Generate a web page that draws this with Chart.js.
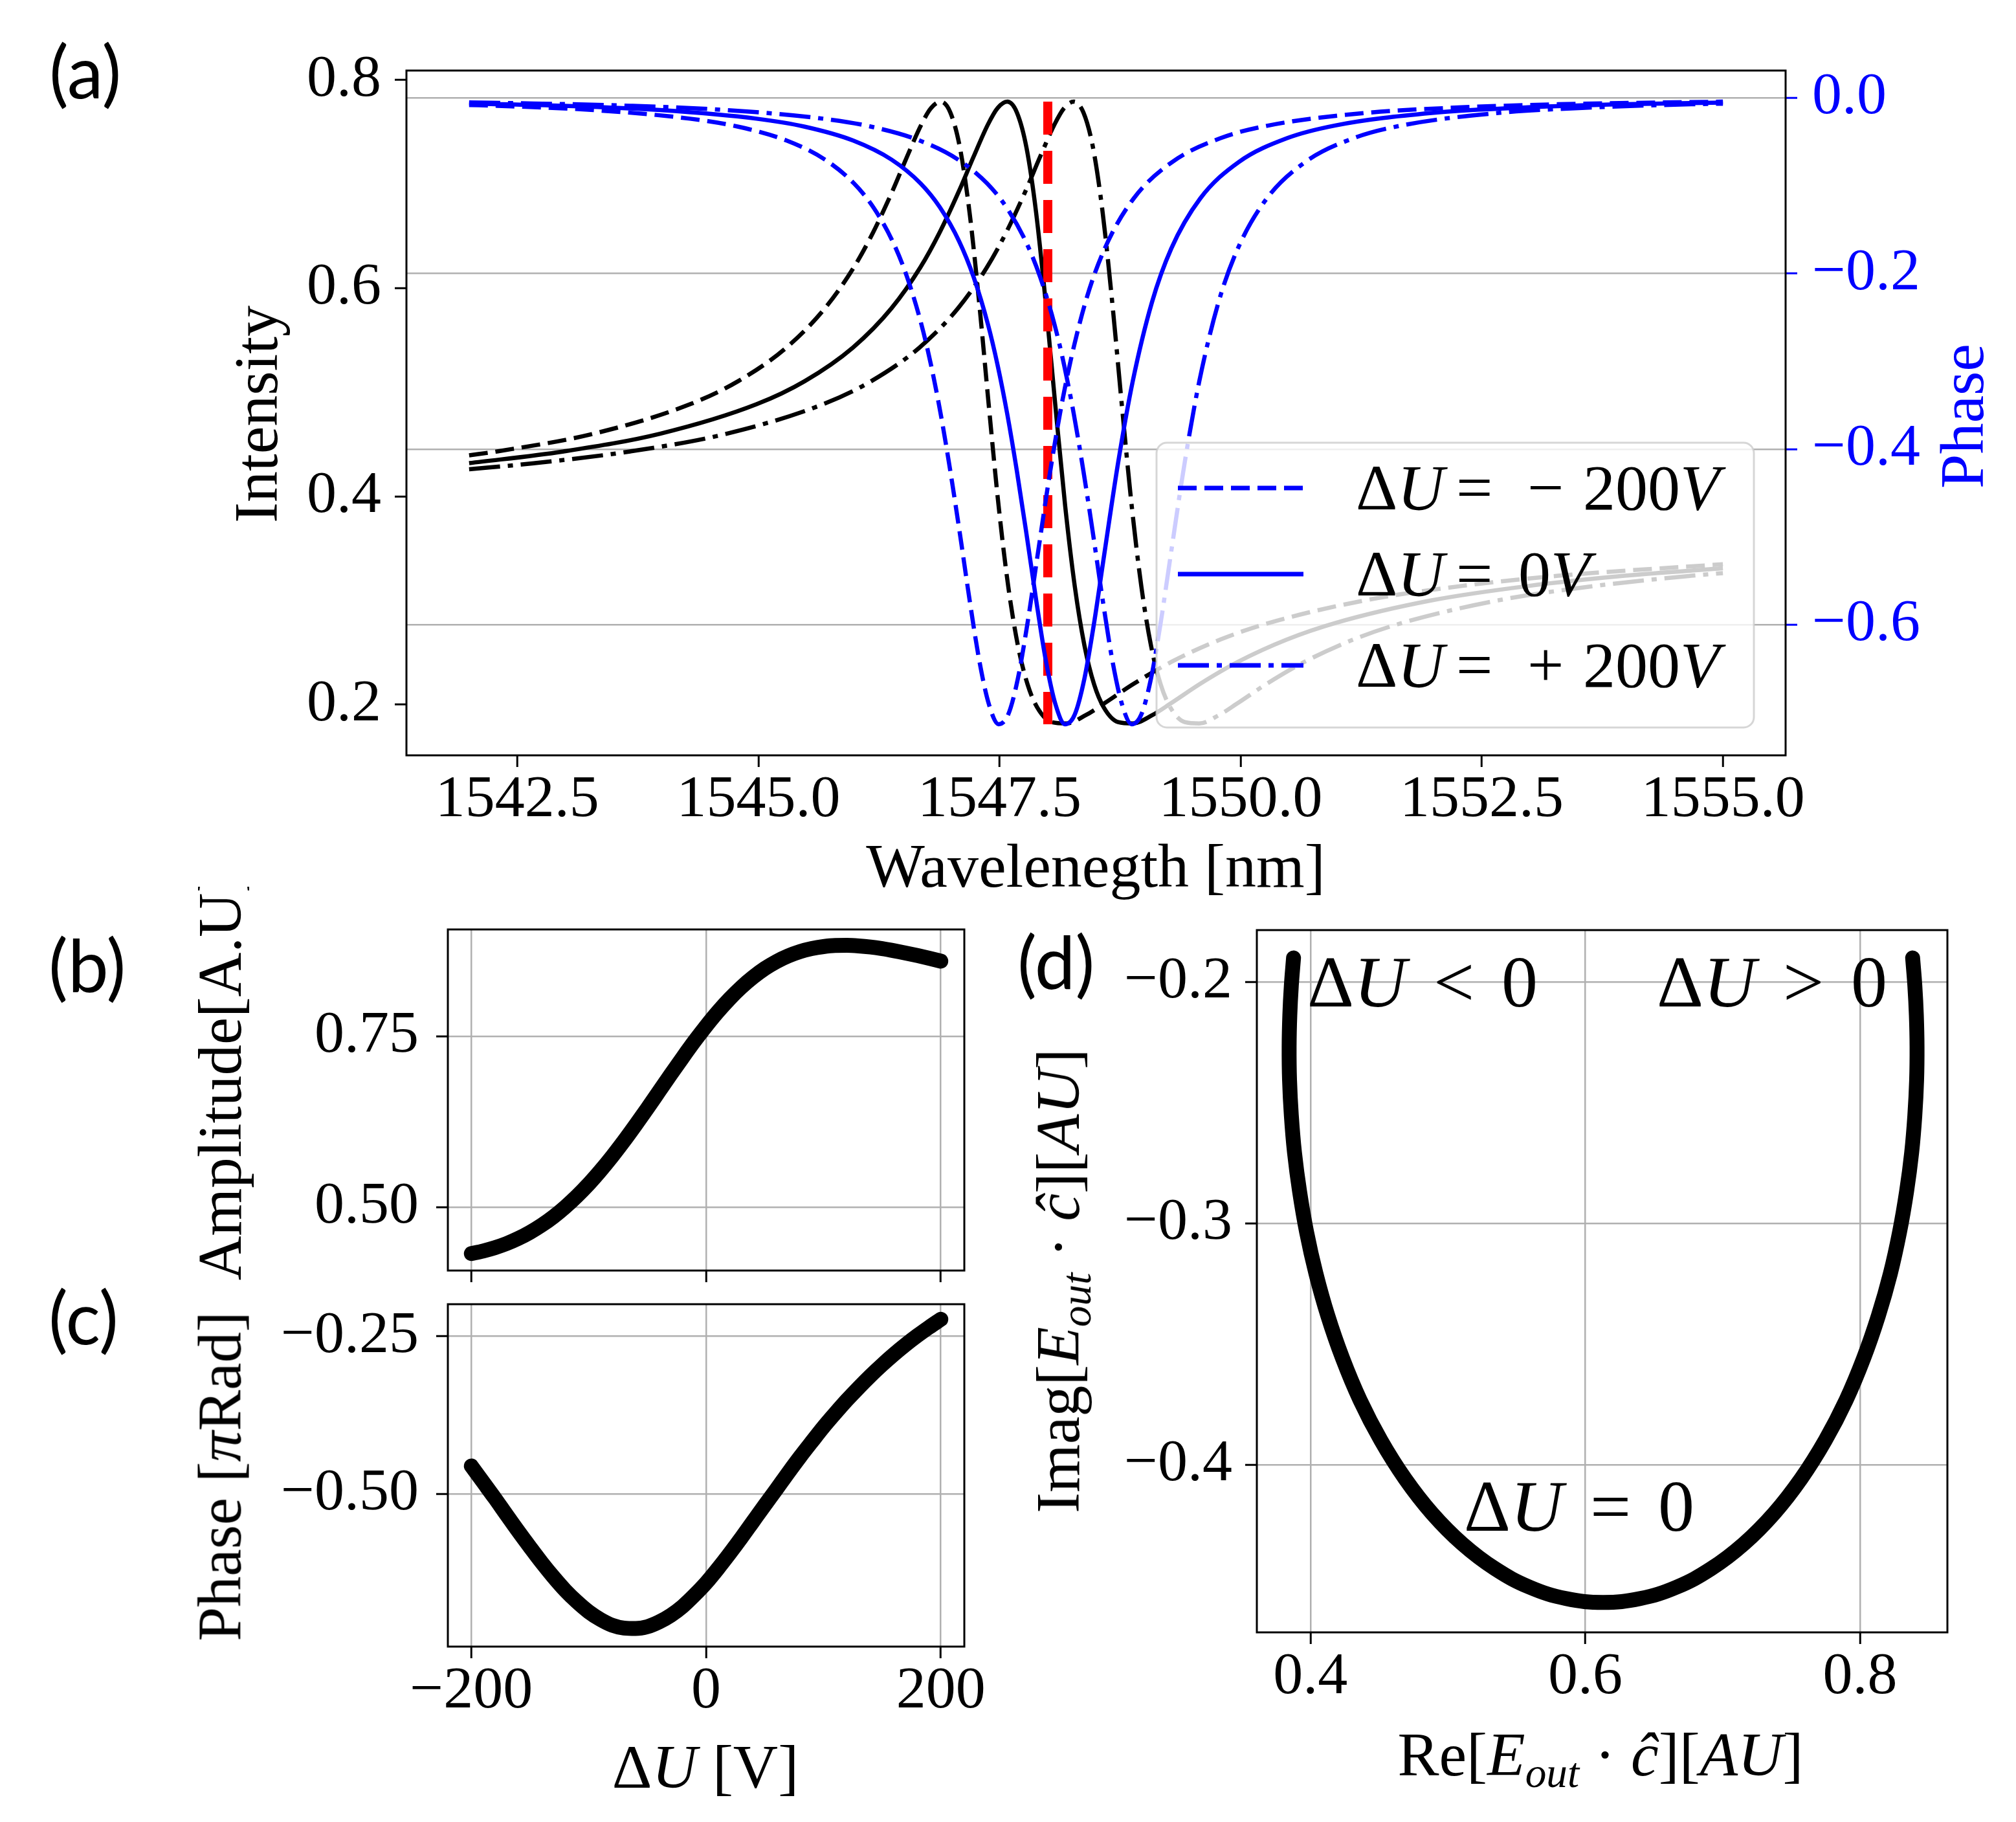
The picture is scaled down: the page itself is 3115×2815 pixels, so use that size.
<!DOCTYPE html>
<html><head><meta charset="utf-8">
<script src="https://cdn.jsdelivr.net/npm/chart.js@4.4.1/dist/chart.umd.min.js"></script>
<style>
html,body{margin:0;padding:0;background:#fff;}
body{width:3115px;height:2815px;position:relative;overflow:hidden;}
canvas{position:absolute;}
.t{position:absolute;white-space:nowrap;line-height:1;font-family:'Liberation Serif','DejaVu Serif',serif;color:#000;transform:translate(-50%,-50%);}
.r{transform:translate(-50%,-50%) rotate(-90deg);}
.l{transform:translate(0,-50%);}
.p{font-family:Lato,'Noto Sans',sans-serif;font-size:112px;transform:translate(0,-50%);}
.n{font-size:112px;word-spacing:14px;}
sub{font-size:68%;vertical-align:-0.28em;line-height:0;}
</style></head><body>
<canvas id="cA" width="3115" height="1390" style="left:0;top:0"></canvas>
<canvas id="cB" width="1560" height="620" style="left:0;top:1380px"></canvas>
<canvas id="cC" width="1560" height="815" style="left:0;top:2000px"></canvas>
<canvas id="cD" width="1555" height="1435" style="left:1560px;top:1380px"></canvas>

<!-- panel letters -->
<div class="t p" style="left:76px;top:109px">(a)</div>
<div class="t p" style="left:75px;top:1490px">(b)</div>
<div class="t p" style="left:75px;top:2034px">(c)</div>
<div class="t p" style="left:1572px;top:1485px">(d)</div>

<!-- panel (a) axis titles -->
<div class="t r" style="left:396px;top:640px;font-size:96px">Intensity</div>
<div class="t r" style="left:3032px;top:643px;font-size:96px;color:#0000ff">Phase</div>
<div class="t" style="left:1693px;top:1338px;font-size:96px">Wavelenegth [nm]</div>

<!-- legend text (a) -->
<div class="t l" style="left:2095px;top:754px;font-size:100px">Δ<i>U</i></div>
<div class="t l" style="left:2250px;top:754px;font-size:100px">=</div>
<div class="t l" style="left:2360px;top:754px;font-size:100px">−</div>
<div class="t l" style="left:2446px;top:754px;font-size:100px">200<i>V</i></div>
<div class="t l" style="left:2095px;top:887px;font-size:100px">Δ<i>U</i></div>
<div class="t l" style="left:2250px;top:887px;font-size:100px">=</div>
<div class="t l" style="left:2346px;top:887px;font-size:100px">0<i>V</i></div>
<div class="t l" style="left:2095px;top:1028px;font-size:100px">Δ<i>U</i></div>
<div class="t l" style="left:2250px;top:1028px;font-size:100px">=</div>
<div class="t l" style="left:2360px;top:1028px;font-size:100px">+</div>
<div class="t l" style="left:2446px;top:1028px;font-size:100px">200<i>V</i></div>

<!-- panel (b),(c) titles -->
<div style="position:absolute;left:0;top:1370px;width:700px;height:700px;overflow:hidden;">
  <div class="t r" style="left:340px;top:293px;font-size:95px">Amplitude[A.U]</div>
</div>
<div class="t r" style="left:340px;top:2281px;font-size:95px">Phase [<i>π</i>Rad]</div>
<div class="t" style="left:1090px;top:2730px;font-size:96px">Δ<i>U</i> [V]</div>

<!-- panel (d) titles and notes -->
<div class="t r" style="left:1635px;top:1979px;font-size:96px">Imag[<i>E</i><sub><i>out</i></sub> · <i>ĉ</i>][<i>AU</i>]</div>
<div class="t" style="left:2473px;top:2711px;font-size:96px">Re[<i>E</i><sub><i>out</i></sub> · <i>ĉ</i>][<i>AU</i>]</div>
<div class="t n" style="left:2198px;top:1517px">Δ<i>U</i> &lt; 0</div>
<div class="t n" style="left:2738px;top:1517px">Δ<i>U</i> &gt; 0</div>
<div class="t n" style="left:2440px;top:2327px">Δ<i>U</i> = 0</div>

<script>
// ---------------- data: panel (a) ----------------
const wlNeg   = [1542.00,1542.29,1543.29,1544.29,1544.79,1545.29,1545.69,1545.99,1546.19,1546.39,1546.54,1546.69,1546.79,1546.89,1546.99,1547.09,1547.19,1547.29,1547.39,1547.49,1547.59,1547.69,1547.79,1547.89,1548.04,1548.19,1548.39,1548.59,1548.89,1549.29,1549.79,1550.29,1551.29,1552.29,1553.29,1555.00];
const intNeg  = [0.4394,0.4432,0.4602,0.4885,0.5107,0.5430,0.5808,0.6202,0.6538,0.6935,0.7262,0.7574,0.7731,0.7792,0.7687,0.7345,0.6718,0.5846,0.4855,0.3909,0.3134,0.2567,0.2194,0.1973,0.1831,0.1818,0.1896,0.2014,0.2199,0.2414,0.2625,0.2783,0.3001,0.3139,0.3237,0.3348];
const phNeg   = [-0.0083,-0.0092,-0.0141,-0.0239,-0.0330,-0.0487,-0.0705,-0.0975,-0.1246,-0.1633,-0.2039,-0.2583,-0.3047,-0.3604,-0.4255,-0.4974,-0.5724,-0.6410,-0.6908,-0.7133,-0.7021,-0.6612,-0.5980,-0.5240,-0.4150,-0.3233,-0.2329,-0.1718,-0.1148,-0.0732,-0.0461,-0.0316,-0.0174,-0.0110,-0.0075,-0.0045];

const wlZero  = [1542.00,1542.98,1543.98,1544.98,1545.48,1545.98,1546.38,1546.68,1546.88,1547.08,1547.23,1547.38,1547.48,1547.58,1547.68,1547.78,1547.88,1547.98,1548.08,1548.18,1548.28,1548.38,1548.48,1548.58,1548.73,1548.88,1549.08,1549.28,1549.58,1549.98,1550.48,1550.98,1551.98,1552.98,1553.98,1555.00];
const intZero = [0.4319,0.4432,0.4602,0.4885,0.5107,0.5430,0.5808,0.6202,0.6538,0.6935,0.7262,0.7574,0.7731,0.7792,0.7687,0.7345,0.6718,0.5846,0.4855,0.3909,0.3134,0.2567,0.2194,0.1973,0.1831,0.1818,0.1896,0.2014,0.2199,0.2414,0.2625,0.2783,0.3001,0.3139,0.3237,0.3309];
const phZero  = [-0.0066,-0.0092,-0.0141,-0.0239,-0.0330,-0.0487,-0.0705,-0.0975,-0.1246,-0.1633,-0.2039,-0.2583,-0.3047,-0.3604,-0.4255,-0.4974,-0.5724,-0.6410,-0.6908,-0.7133,-0.7021,-0.6612,-0.5980,-0.5240,-0.4150,-0.3233,-0.2329,-0.1718,-0.1148,-0.0732,-0.0461,-0.0316,-0.0174,-0.0110,-0.0075,-0.0055];

const wlPos   = [1542.00,1542.67,1543.67,1544.67,1545.67,1546.17,1546.67,1547.07,1547.37,1547.57,1547.77,1547.92,1548.07,1548.17,1548.27,1548.37,1548.47,1548.57,1548.67,1548.77,1548.87,1548.97,1549.07,1549.17,1549.27,1549.42,1549.57,1549.77,1549.97,1550.27,1550.67,1551.17,1551.67,1552.67,1553.67,1554.67,1555.00];
const intPos  = [0.4260,0.4318,0.4432,0.4602,0.4885,0.5107,0.5430,0.5808,0.6202,0.6538,0.6935,0.7262,0.7574,0.7731,0.7792,0.7687,0.7345,0.6718,0.5846,0.4855,0.3909,0.3134,0.2567,0.2194,0.1973,0.1831,0.1818,0.1896,0.2014,0.2199,0.2414,0.2625,0.2783,0.3001,0.3139,0.3237,0.3263];
const phPos   = [-0.0053,-0.0066,-0.0092,-0.0141,-0.0239,-0.0330,-0.0487,-0.0705,-0.0975,-0.1246,-0.1633,-0.2039,-0.2583,-0.3047,-0.3604,-0.4255,-0.4974,-0.5724,-0.6410,-0.6908,-0.7133,-0.7021,-0.6612,-0.5980,-0.5240,-0.4150,-0.3233,-0.2329,-0.1718,-0.1148,-0.0732,-0.0461,-0.0316,-0.0174,-0.0110,-0.0075,-0.0068];

const markerWl = 1548.0;
const markerSpan = [0.7792, 0.1811];
const legendLabels = ['ΔU = −200V', 'ΔU = 0V', 'ΔU = +200V'];

// ---------------- data: panels (b),(c),(d) ----------------
const dU      = [-200,-190,-180,-170,-160,-150,-140,-130,-120,-110,-100,-90,-80,-70,-60,-50,-40,-30,-20,-10,0,10,20,30,40,50,60,70,80,90,100,110,120,130,140,150,160,170,180,190,200];
const ampU    = [0.4318,0.4356,0.4404,0.4464,0.4539,0.4629,0.4735,0.4858,0.5000,0.5159,0.5335,0.5530,0.5740,0.5964,0.6200,0.6443,0.6692,0.6941,0.7185,0.7422,0.7646,0.7855,0.8045,0.8214,0.8361,0.8488,0.8591,0.8673,0.8736,0.8780,0.8809,0.8825,0.8827,0.8819,0.8803,0.8779,0.8749,0.8715,0.8678,0.8638,0.8596];
const phaseU  = [-0.4556,-0.4811,-0.5066,-0.5330,-0.5591,-0.5843,-0.6088,-0.6317,-0.6528,-0.6710,-0.6868,-0.6990,-0.7081,-0.7126,-0.7133,-0.7104,-0.7029,-0.6923,-0.6783,-0.6606,-0.6410,-0.6185,-0.5946,-0.5696,-0.5436,-0.5177,-0.4923,-0.4663,-0.4412,-0.4173,-0.3938,-0.3720,-0.3510,-0.3313,-0.3126,-0.2951,-0.2786,-0.2632,-0.2489,-0.2356,-0.2229];
const reE     = [0.3877,0.3861,0.3850,0.3845,0.3848,0.3861,0.3884,0.3921,0.3972,0.4040,0.4126,0.4233,0.4361,0.4513,0.4688,0.4885,0.5105,0.5343,0.5596,0.5860,0.6130,0.6400,0.6664,0.6917,0.7155,0.7375,0.7572,0.7747,0.7899,0.8027,0.8134,0.8221,0.8288,0.8339,0.8376,0.8399,0.8412,0.8415,0.8410,0.8399,0.8383];
const imE     = [-0.1901,-0.2016,-0.2138,-0.2269,-0.2407,-0.2553,-0.2707,-0.2868,-0.3036,-0.3208,-0.3382,-0.3558,-0.3732,-0.3899,-0.4057,-0.4201,-0.4327,-0.4430,-0.4507,-0.4554,-0.4570,-0.4554,-0.4507,-0.4430,-0.4327,-0.4201,-0.4057,-0.3899,-0.3732,-0.3558,-0.3382,-0.3208,-0.3036,-0.2868,-0.2707,-0.2553,-0.2407,-0.2269,-0.2138,-0.2016,-0.1901];

// ---------------- tick values ----------------
const aXTicks  = [1542.5,1545.0,1547.5,1550.0,1552.5,1555.0];
const aYTicks  = [0.2,0.4,0.6,0.8];
const aY2Ticks = [0.0,-0.2,-0.4,-0.6];
const bcXTicks = [-200,0,200];
const bYTicks  = [0.50,0.75];
const cYTicks  = [-0.50,-0.25];
const dXTicks  = [0.4,0.6,0.8];
const dYTicks  = [-0.4,-0.3,-0.2];

// ---------------- styling ----------------
const SERIF = "'Liberation Serif','DejaVu Serif',serif";
const BLUE = '#0000ff';
const GRID = '#b0b0b0';
const DASH = [29, 12];
const DASHDOT = [48, 12, 8, 12];

function fmt(v, d){ let s = Math.abs(v) < 1e-9 ? (0).toFixed(d) : v.toFixed(d); return s.replace('-', '\u2212'); }
function pts(xs, ys){ return xs.map((x,i)=>({x:x, y:ys[i]})); }

function scale(o){
  const vertical = (o.pos === 'left' || o.pos === 'right');
  return {
    type:'linear', position:o.pos, min:o.min, max:o.max,
    afterBuildTicks: s => { s.ticks = o.ticks.map(v => ({value:v})); },
    afterFit: s => { if (vertical) s.width = o.fixed; else s.height = o.fixed;
                     s.paddingTop = s.paddingBottom = s.paddingLeft = s.paddingRight = 0; },
    ticks:{ display: !o.hide, autoSkip:false, maxRotation:0, minRotation:0, padding:o.pad,
            color:o.color || '#000', font:{family:SERIF, size:92, lineHeight:1},
            callback: v => fmt(v, o.dec) },
    grid:{ display:true, drawOnChartArea: !!o.grid, color:GRID, lineWidth:2.5,
           drawTicks:true, tickLength:18, tickWidth:3, tickColor:o.color || '#000' },
    border:{ display:false }
  };
}

const framePlugin = { id:'frame', afterDraw(chart){
  const c = chart.ctx, a = chart.chartArea;
  c.save(); c.strokeStyle = '#000'; c.lineWidth = 3; c.setLineDash([]);
  c.strokeRect(a.left, a.top, a.right - a.left, a.bottom - a.top); c.restore();
}};

const legendBox = {x:1787, y:684, w:923, h:440, r:16, lineX0:1820, lineX1:2014, rows:[754, 887, 1028]};
const legendPlugin = { id:'innerLegend', afterDatasetsDraw(chart){
  const c = chart.ctx, L = legendBox;
  c.save();
  c.beginPath(); c.roundRect(L.x, L.y, L.w, L.h, L.r);
  c.fillStyle = 'rgba(255,255,255,0.8)'; c.fill();
  c.strokeStyle = 'rgba(204,204,204,0.8)'; c.lineWidth = 3; c.stroke();
  const dashes = [DASH, [], DASHDOT];
  c.strokeStyle = BLUE; c.lineWidth = 7;
  L.rows.forEach((y,i) => { c.setLineDash(dashes[i]); c.beginPath(); c.moveTo(L.lineX0, y); c.lineTo(L.lineX1, y); c.stroke(); });
  c.restore();
}};

const common = { animation:false, responsive:false, devicePixelRatio:1, events:[],
  plugins:{ legend:{display:false}, tooltip:{enabled:false} } };

function line(label, xs, ys, color, dash, axis, order){
  return { label, data:pts(xs, ys), borderColor:color, borderWidth:6.5, borderDash:dash,
           yAxisID:axis, order, pointRadius:0, cubicInterpolationMode:'monotone', fill:false };
}

// ---------------- panel (a) ----------------
new Chart(document.getElementById('cA'), {
  type:'line',
  data:{ datasets:[
    line('I ' + legendLabels[0], wlNeg, intNeg, '#000', DASH, 'y', 2),
    line('I ' + legendLabels[1], wlZero, intZero, '#000', [], 'y', 2),
    line('I ' + legendLabels[2], wlPos, intPos, '#000', DASHDOT, 'y', 2),
    line(legendLabels[0], wlNeg, phNeg, BLUE, DASH, 'y2', 0),
    line(legendLabels[1], wlZero, phZero, BLUE, [], 'y2', 0),
    line(legendLabels[2], wlPos, phPos, BLUE, DASHDOT, 'y2', 0),
    { label:'λ0', data:[{x:markerWl, y:markerSpan[0]}, {x:markerWl, y:markerSpan[1]}], borderColor:'#ff0000',
      borderWidth:14, borderDash:[51,25], yAxisID:'y', order:1, pointRadius:0, fill:false }
  ]},
  options:Object.assign({}, common, {
    layout:{ padding:{ top:109, left:0, right:0, bottom:0 } },
    scales:{
      x: scale({pos:'bottom', min:1541.35, max:1555.65, ticks:aXTicks, dec:1, pad:6, fixed:1390-1167}),
      y: scale({pos:'left', min:0.1512, max:0.8091, ticks:aYTicks, dec:1, pad:21, fixed:628}),
      y2: scale({pos:'right', min:-0.7487, max:0.0309, ticks:aY2Ticks, dec:1, pad:23, fixed:3115-2759, color:BLUE, grid:true})
    }
  }),
  plugins:[legendPlugin, framePlugin]
});

function thick(xs, ys, tension){
  return { data:pts(xs, ys), borderColor:'#000', borderWidth:23, borderCapStyle:'round', borderJoinStyle:'round',
           pointRadius:0, fill:false, tension: tension, cubicInterpolationMode: tension ? 'default' : 'monotone' };
}

// ---------------- panel (b) ----------------
new Chart(document.getElementById('cB'), {
  type:'line',
  data:{ datasets:[ Object.assign(thick(dU, ampU, 0), {label:'Amplitude'}) ] },
  options:Object.assign({}, common, {
    layout:{ padding:{ top:56, left:0, right:70, bottom:0 } },
    scales:{
      x: scale({pos:'bottom', min:-220, max:220, ticks:bcXTicks, dec:0, pad:8, fixed:37, grid:true, hide:true}),
      y: scale({pos:'left', min:0.407, max:0.906, ticks:bYTicks, dec:2, pad:27, fixed:692, grid:true})
    }
  }),
  plugins:[framePlugin]
});

// ---------------- panel (c) ----------------
new Chart(document.getElementById('cC'), {
  type:'line',
  data:{ datasets:[ Object.assign(thick(dU, phaseU, 0), {label:'Phase'}) ] },
  options:Object.assign({}, common, {
    layout:{ padding:{ top:15, left:0, right:70, bottom:0 } },
    scales:{
      x: scale({pos:'bottom', min:-220, max:220, ticks:bcXTicks, dec:0, pad:6, fixed:815-544, grid:true}),
      y: scale({pos:'left', min:-0.742, max:-0.199, ticks:cYTicks, dec:2, pad:27, fixed:692, grid:true})
    }
  }),
  plugins:[framePlugin]
});

// ---------------- panel (d) ----------------
new Chart(document.getElementById('cD'), {
  type:'line',
  data:{ datasets:[ Object.assign(thick(reE, imE, 0.4), {label:'E_out'}) ] },
  options:Object.assign({}, common, {
    layout:{ padding:{ top:57, left:0, right:106, bottom:0 } },
    scales:{
      x: scale({pos:'bottom', min:0.361, max:0.8636, ticks:dXTicks, dec:1, pad:6, fixed:1435-1142, grid:true}),
      y: scale({pos:'left', min:-0.4694, max:-0.1786, ticks:dYTicks, dec:1, pad:20, fixed:382, grid:true})
    }
  }),
  plugins:[framePlugin]
});
</script>
</body></html>
